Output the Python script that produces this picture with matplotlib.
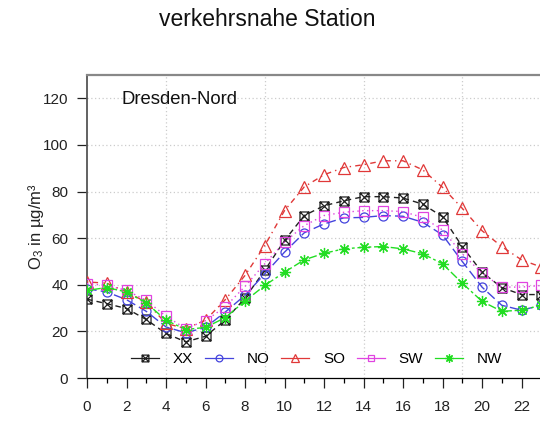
import matplotlib
matplotlib.use("Agg")
import matplotlib.pyplot as plt
import numpy as np
from matplotlib.path import Path
from matplotlib.lines import Line2D

plt.rcParams['font.family'] = ['Liberation Sans', 'DejaVu Sans']
plt.rcParams['mathtext.fontset'] = 'custom'
plt.rcParams['mathtext.rm'] = 'Liberation Sans'
plt.rcParams['mathtext.it'] = 'Liberation Sans:italic'
plt.rcParams['mathtext.default'] = 'rm'

# mittlere Tagesgaenge O3 nach Windrichtung
hours = np.arange(24)
xx = [33.8, 31.9, 29.8, 25.1, 19.1, 15.5, 17.9, 24.8, 34.3, 46.2, 59.0, 69.7,
      73.9, 76.0, 77.8, 77.8, 77.2, 74.6, 69.2, 56.4, 45.4, 38.8, 35.8, 35.8]
no = [38.3, 36.9, 33.6, 28.6, 21.9, 19.4, 21.7, 28.3, 35.5, 44.7, 54.0, 62.3,
      66.1, 68.7, 68.9, 69.7, 69.4, 66.8, 61.4, 50.0, 39.0, 31.2, 29.1, 31.2]
so = [41.2, 40.7, 36.9, 32.6, 23.4, 21.2, 24.8, 33.6, 44.0, 56.8, 71.8, 82.0,
      87.2, 90.3, 91.5, 93.2, 93.2, 89.3, 81.8, 72.8, 63.2, 56.4, 50.7, 47.6]
sw = [40.5, 39.7, 37.6, 33.3, 26.5, 21.2, 24.6, 30.5, 39.3, 49.0, 58.3, 65.4,
      69.7, 71.1, 71.8, 71.8, 71.4, 68.9, 63.5, 53.3, 45.0, 39.0, 39.0, 39.7]
nw = [37.6, 38.8, 36.9, 32.2, 24.8, 20.8, 21.7, 25.9, 33.0, 39.7, 45.4, 50.7,
      53.5, 55.4, 56.1, 56.4, 55.4, 53.3, 49.0, 40.7, 32.9, 28.6, 29.1, 31.2]
labels = ['XX', 'NO', 'SO', 'SW', 'NW']

# square with a cross inside (like R pch=7)
sq_x = Path([(-1, -1), (1, -1), (1, 1), (-1, 1), (-1, -1),
             (-1, -1), (1, 1), (-1, 1), (1, -1)],
            [Path.MOVETO, Path.LINETO, Path.LINETO, Path.LINETO, Path.CLOSEPOLY,
             Path.MOVETO, Path.LINETO, Path.MOVETO, Path.LINETO])

series = [xx, no, so, sw, nw]
colors = ['#202020', '#4444dd', '#e03838', '#e044e0', '#22dd22']
markers = [sq_x, 'o', '^', 's', (8, 2, 0)]
msizes = [6.5, 6.5, 8, 6.5, 8]
dashes = [(4, 3), (7, 3), (1, 3, 4, 3), (1, 2.5), (2, 2, 6, 2)]

fig = plt.figure(figsize=(5.4, 4.23), dpi=100)
ax = fig.add_axes([87/540, 45/423, 474/540, 303/423])

for y, c, m, ms, d in zip(series, colors, markers, msizes, dashes):
    ax.plot(hours, y, color=c, lw=1.0, dashes=d, marker=m, ms=ms,
            mfc='none', mec=c, mew=0.9, zorder=3)

ax.set_xlim(0, 24)
ax.set_ylim(0, 130)
ax.set_xticks(np.arange(0, 24, 2))
ax.set_xticks(np.arange(0, 25, 1), minor=True)
ax.set_yticks(np.arange(0, 121, 20))

# gitter
for gx in [4, 9, 14, 19, 24]:
    ax.axvline(gx, color='#cccccc', lw=0.9, ls=(0, (1, 2)), zorder=1)
for gy in range(20, 121, 20):
    ax.axhline(gy, color='#cccccc', lw=0.9, ls=(0, (1, 2)), zorder=1)

ax.spines['right'].set_visible(False)
ax.spines['top'].set_color('#888888')
ax.spines['top'].set_linewidth(1.6)
ax.spines['left'].set_color('#555555')
ax.spines['left'].set_linewidth(1.3)
ax.spines['bottom'].set_color('black')
ax.spines['bottom'].set_linewidth(0.9)

ax.tick_params(axis='y', length=7.5, width=0.9, pad=6, labelsize=11, colors='#222222')
ax.tick_params(axis='x', which='major', length=7, width=0.9, pad=9, labelsize=11, colors='#222222')
ax.tick_params(axis='x', which='minor', length=3.6, width=0.9)

ax.set_ylabel('O$_3$ in µg/m³', fontsize=12, labelpad=-2, color='#222222')
ax.text(1.75, 119.5, 'Dresden-Nord', fontsize=13.3, va='center', ha='left', color='#111111')

fig.text(0.494, 0.953, 'verkehrsnahe Station', fontsize=16.5, ha='center', va='center',
         color='#111111')

handles = [Line2D([], [], color=c, lw=0.9, marker=m, ms=ms * 0.75, mfc='none', mec=c,
                  mew=0.9) for c, m, ms in zip(colors, markers, msizes)]
fig.legend(handles, labels, ncol=5, loc='center left', frameon=False,
           bbox_to_anchor=(131/540, 1 - 359/423), fontsize=11, handlelength=1.85,
           handletextpad=0.9, columnspacing=0.75, borderpad=0, borderaxespad=0)

fig.savefig('out.png', dpi=100)
